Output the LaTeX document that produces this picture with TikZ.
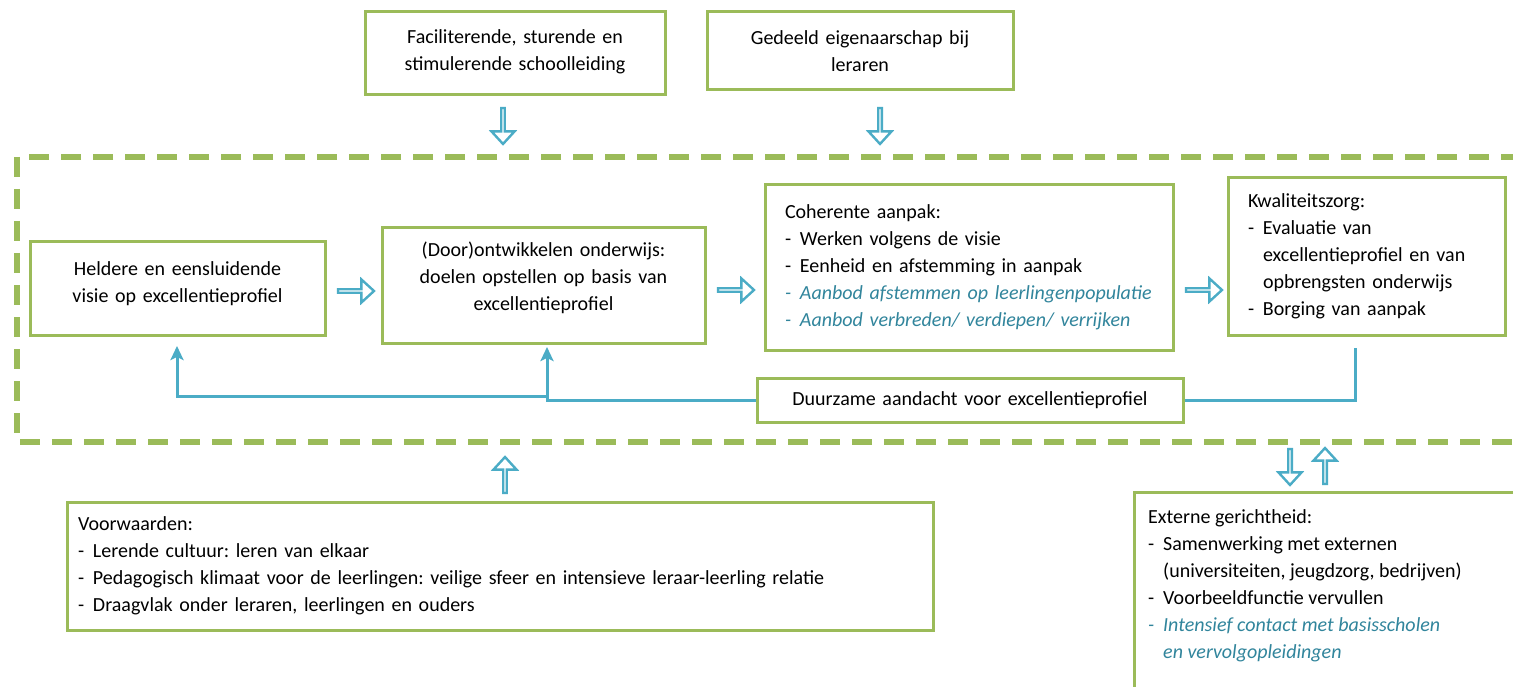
\documentclass[tikz,border=0pt]{standalone}
\usepackage{fontspec}
\setmainfont{Carlito}
\usetikzlibrary{shapes.arrows,arrows.meta}
\definecolor{grn}{HTML}{9BBB59}
\definecolor{aqua}{HTML}{4BACC6}
\definecolor{tealtxt}{HTML}{31859C}
\newcommand{\bul}{\makebox[15pt][l]{-}}
\newcommand{\ind}{\hspace*{15pt}}
\hbadness=10000 \hfuzz=400pt
\frenchspacing
\tikzset{
  gbox/.style={draw=grn, line width=3pt, fill=white, inner sep=0pt,
    font=\fontsize{20}{27}\selectfont},
  harrow/.style={single arrow, draw=aqua, line width=2.4pt, fill=white,
    minimum height=36pt, minimum width=23pt, single arrow head extend=6.5pt,
    single arrow tip angle=85, inner sep=0pt},
  conn/.style={draw=aqua, line width=3pt},
  tip/.style={-{Stealth[length=14pt,width=13pt,inset=3pt]}},
  frame/.style={draw=grn, line width=5.5pt, dash pattern=on 20pt off 12pt},
}
\begin{document}
\begin{tikzpicture}[x=1pt,y=-1pt]
\useasboundingbox (0,0) rectangle (1513,687);
\clip (0,0) rectangle (1513,687);
\fill[white] (0,0) rectangle (1513,687);

% dashed frame
\draw[frame] (17,157) rectangle (1540,442);

% top boxes
\node[gbox, minimum width=300pt, minimum height=83pt, text width=290pt, align=center]
  (lead) at (515,53.5) {Faciliterende, sturende en\\stimulerende schoolleiding\par\kern4pt};
\node[gbox, minimum width=306pt, minimum height=78pt, text width=296pt, align=center]
  (own) at (860,51) {Gedeeld eigenaarschap bij\\leraren};

% main row
\node[gbox, minimum width=295pt, minimum height=93pt, text width=285pt, align=center]
  (visie) at (177.5,288.5) {Heldere en eensluidende\\visie op excellentieprofiel\par\kern10pt};
\node[gbox, minimum width=323pt, minimum height=115pt, text width=313pt, align=center]
  (dev) at (543.5,285.5) {(Door)ontwikkelen onderwijs:\\doelen opstellen op basis van\\excellentieprofiel\par\kern16pt};
\node[gbox, minimum width=408pt, minimum height=165pt, text width=368pt, align=left]
  (coh) at (969,267.5) {Coherente aanpak:\\
  \bul Werken volgens de visie\\
  \bul Eenheid en afstemming in aanpak\\
  {\color{tealtxt}\itshape\bul Aanbod afstemmen op leerlingenpopulatie}\\
  {\color{tealtxt}\itshape\bul Aanbod verbreden/ verdiepen/ verrijken}};
\node[gbox, minimum width=277pt, minimum height=157pt, text width=237pt, align=left]
  (kwal) at (1366.5,256.5) {Kwaliteitszorg:\\
  \bul Evaluatie van\\
  \ind excellentieprofiel en van\\
  \ind opbrengsten onderwijs\\
  \bul Borging van aanpak};
\node[gbox, minimum width=426pt, minimum height=44pt, text width=416pt, align=center]
  (duur) at (970,400) {Duurzame aandacht voor excellentieprofiel};

% bottom boxes
\node[gbox, minimum width=866pt, minimum height=128pt, text width=844pt, align=left]
  (voor) at (500,566) {Voorwaarden:\\
  \bul Lerende cultuur: leren van elkaar\\
  \bul Pedagogisch klimaat voor de leerlingen: veilige sfeer en intensieve leraar-leerling relatie\\
  \bul Draagvlak onder leraren, leerlingen en ouders};
\node[gbox, minimum width=420pt, minimum height=230pt, anchor=north west]
  (ext) at (1133,491) {};
\node[font=\fontsize{20}{27}\selectfont, align=left, anchor=north west, inner sep=0pt]
  (exttext) at (1148,509) {Externe gerichtheid:\\
  \bul Samenwerking met externen\\
  \ind (universiteiten, jeugdzorg, bedrijven)\\
  \bul Voorbeeldfunctie vervullen\\
  {\color{tealtxt}\itshape\bul Intensief contact met basisscholen}\\
  {\color{tealtxt}\itshape\ind en vervolgopleidingen}};

% hollow block arrows
\node[harrow, shape border rotate=270] (a1) at (503,125) {};
\node[harrow, shape border rotate=270] (a2) at (880,125) {};
\node[harrow] (a3) at (355,291) {};
\node[harrow] (a4) at (735,290) {};
\node[harrow] (a5) at (1203,290) {};
\node[harrow, shape border rotate=90] (a6) at (505,476) {};
\node[harrow, shape border rotate=270] (a7) at (1290,466) {};
\node[harrow, shape border rotate=90] (a8) at (1325,467) {};

% feedback connectors
\coordinate (kq) at (1355,348);
\coordinate (dq) at (547,347);
\coordinate (br) at (547,396);
\coordinate (vq) at (177,346);
\draw[conn] (kq) |- (duur.east);
\draw[conn, tip] (duur.west) -| (dq);
\draw[conn, tip] (br) -| (vq);
\end{tikzpicture}
\end{document}
